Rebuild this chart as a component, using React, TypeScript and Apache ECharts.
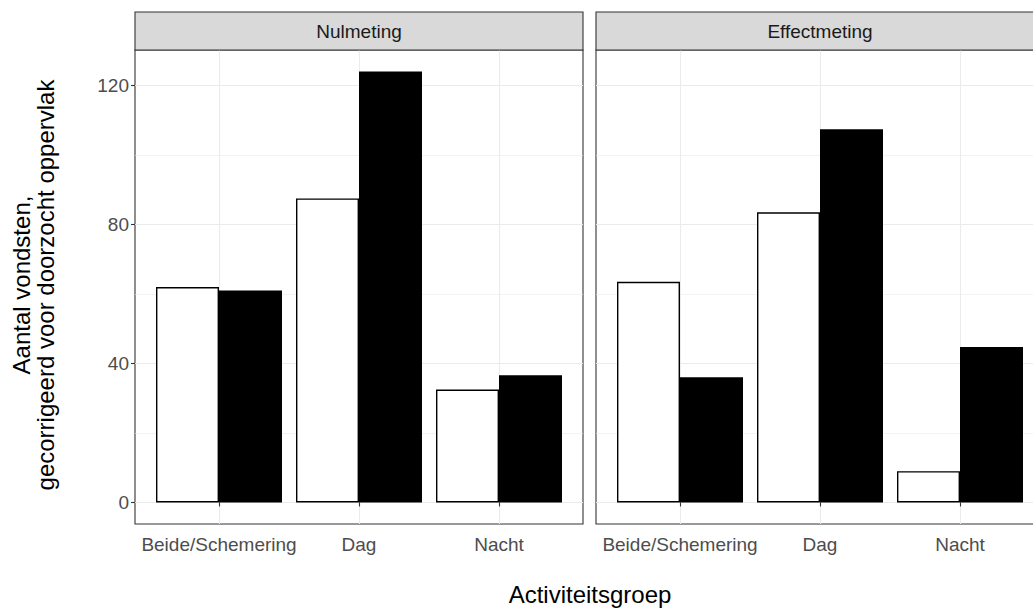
import React, { useEffect, useRef } from "react";
import * as echarts from "echarts";

// ---- data ----
const categories = ["Beide/Schemering", "Dag", "Nacht"];
const panelTitles = ["Nulmeting", "Effectmeting"];
const nulmetingWhite = [62, 87.5, 32.5];
const nulmetingBlack = [61, 124, 36.6];
const effectmetingWhite = [63.5, 83.5, 9];
const effectmetingBlack = [36, 107.4, 44.7];
const yMajorTicks = [0, 40, 80, 120];
const yMinorTicks = [20, 60, 100];
const xTickPositions = [1, 2, 3];
const yTitle = "Aantal vondsten,\ngecorrigeerd voor doorzocht oppervlak";
const xTitle = "Activiteitsgroep";

const FONT = "'Liberation Sans', Arial, Helvetica, sans-serif";

export default function App() {
  const ref = useRef<HTMLDivElement>(null);

  useEffect(() => {
    if (!ref.current) return;
    const chart = echarts.init(ref.current, undefined, { renderer: "svg" });

    const panelLeft = [135, 596];
    const panelTop = 50;
    const panelW = 448;
    const panelH = 474;
    const yMin = -6.2;
    const yMax = 130.2;

    const grids = panelLeft.map((l) => ({
      left: l,
      top: panelTop,
      width: panelW,
      height: panelH,
      show: true,
      borderColor: "#333333",
      borderWidth: 1.1,
      backgroundColor: "#ffffff",
      containLabel: false,
    }));

    const xAxes = [0, 1].map((i) => ({
      type: "value",
      gridIndex: i,
      min: 0.4,
      max: 3.6,
      axisLine: { show: false },
      axisTick: {
        show: true,
        customValues: xTickPositions,
        length: 4,
        lineStyle: { color: "#333333", width: 1.1 },
      },
      axisLabel: {
        show: true,
        customValues: xTickPositions,
        formatter: (v: number) => categories[Math.round(v) - 1] ?? "",
        color: "#4d4d4d",
        fontSize: 19,
        fontFamily: FONT,
        margin: 11,
      },
      splitLine: { show: true, lineStyle: { color: "#ebebeb", width: 1.1 } },
    }));

    const majorY = [0, 1].map((i) => ({
      type: "value",
      gridIndex: i,
      min: yMin,
      max: yMax,
      axisLine: { show: false },
      axisTick: {
        show: i === 0,
        customValues: yMajorTicks,
        length: 4,
        lineStyle: { color: "#333333", width: 1.1 },
      },
      axisLabel: {
        show: i === 0,
        customValues: yMajorTicks,
        color: "#4d4d4d",
        fontSize: 19,
        fontFamily: FONT,
        margin: 6,
      },
      splitLine: { show: true, lineStyle: { color: "#ebebeb", width: 1.1 } },
    }));

    const minorY = [0, 1].map((i) => ({
      type: "value",
      gridIndex: i,
      position: "left",
      min: yMin,
      max: yMax,
      axisLine: { show: false },
      axisTick: { show: false, customValues: yMinorTicks },
      axisLabel: { show: false, customValues: yMinorTicks },
      splitLine: { show: true, lineStyle: { color: "#ebebeb", width: 0.6 } },
    }));

    const toPoints = (vals: number[]) => vals.map((v, k) => [xTickPositions[k], v]);

    const barBase = {
      type: "bar",
      barWidth: 63,
      barGap: "0%",
      z: 3,
    };

    const series = [
      { ...barBase, name: "w0", xAxisIndex: 0, yAxisIndex: 0, data: toPoints(nulmetingWhite),
        itemStyle: { color: "#ffffff", borderColor: "#000000", borderWidth: 1.4 } },
      { ...barBase, name: "b0", xAxisIndex: 0, yAxisIndex: 0, data: toPoints(nulmetingBlack),
        itemStyle: { color: "#000000", borderColor: "#000000", borderWidth: 1.4 } },
      { ...barBase, name: "w1", xAxisIndex: 1, yAxisIndex: 1, data: toPoints(effectmetingWhite),
        itemStyle: { color: "#ffffff", borderColor: "#000000", borderWidth: 1.4 } },
      { ...barBase, name: "b1", xAxisIndex: 1, yAxisIndex: 1, data: toPoints(effectmetingBlack),
        itemStyle: { color: "#000000", borderColor: "#000000", borderWidth: 1.4 } },
    ];

    const graphic: any[] = [];
    panelLeft.forEach((l, i) => {
      graphic.push({
        type: "rect",
        shape: { x: l, y: 12, width: panelW, height: panelTop - 12 },
        style: { fill: "#d9d9d9", stroke: "#333333", lineWidth: 1.1 },
        z: 10,
      });
      graphic.push({
        type: "text",
        x: l + panelW / 2,
        y: 31,
        style: {
          text: panelTitles[i],
          align: "center",
          verticalAlign: "middle",
          fontSize: 19,
          fontFamily: FONT,
          fill: "#1a1a1a",
        },
        z: 11,
      });
    });
    graphic.push({
      type: "text",
      x: 33,
      y: 285,
      rotation: Math.PI / 2,
      style: {
        text: yTitle,
        align: "center",
        verticalAlign: "middle",
        fontSize: 24,
        lineHeight: 24,
        fontFamily: FONT,
        fill: "#000000",
      },
    });
    graphic.push({
      type: "text",
      x: 590,
      y: 594,
      style: {
        text: xTitle,
        align: "center",
        verticalAlign: "middle",
        fontSize: 24,
        fontFamily: FONT,
        fill: "#000000",
      },
    });

    chart.setOption({
      animation: false,
      backgroundColor: "#ffffff",
      grid: grids,
      xAxis: xAxes,
      yAxis: [...majorY, ...minorY],
      series,
      graphic,
    });

    return () => chart.dispose();
  }, []);

  return (
    <div
      style={{
        position: "fixed",
        left: 0,
        top: 0,
        width: 1033,
        height: 608,
        overflow: "hidden",
        background: "#ffffff",
      }}
    >
      <div ref={ref} style={{ width: 1060, height: 608 }} />
    </div>
  );
}
